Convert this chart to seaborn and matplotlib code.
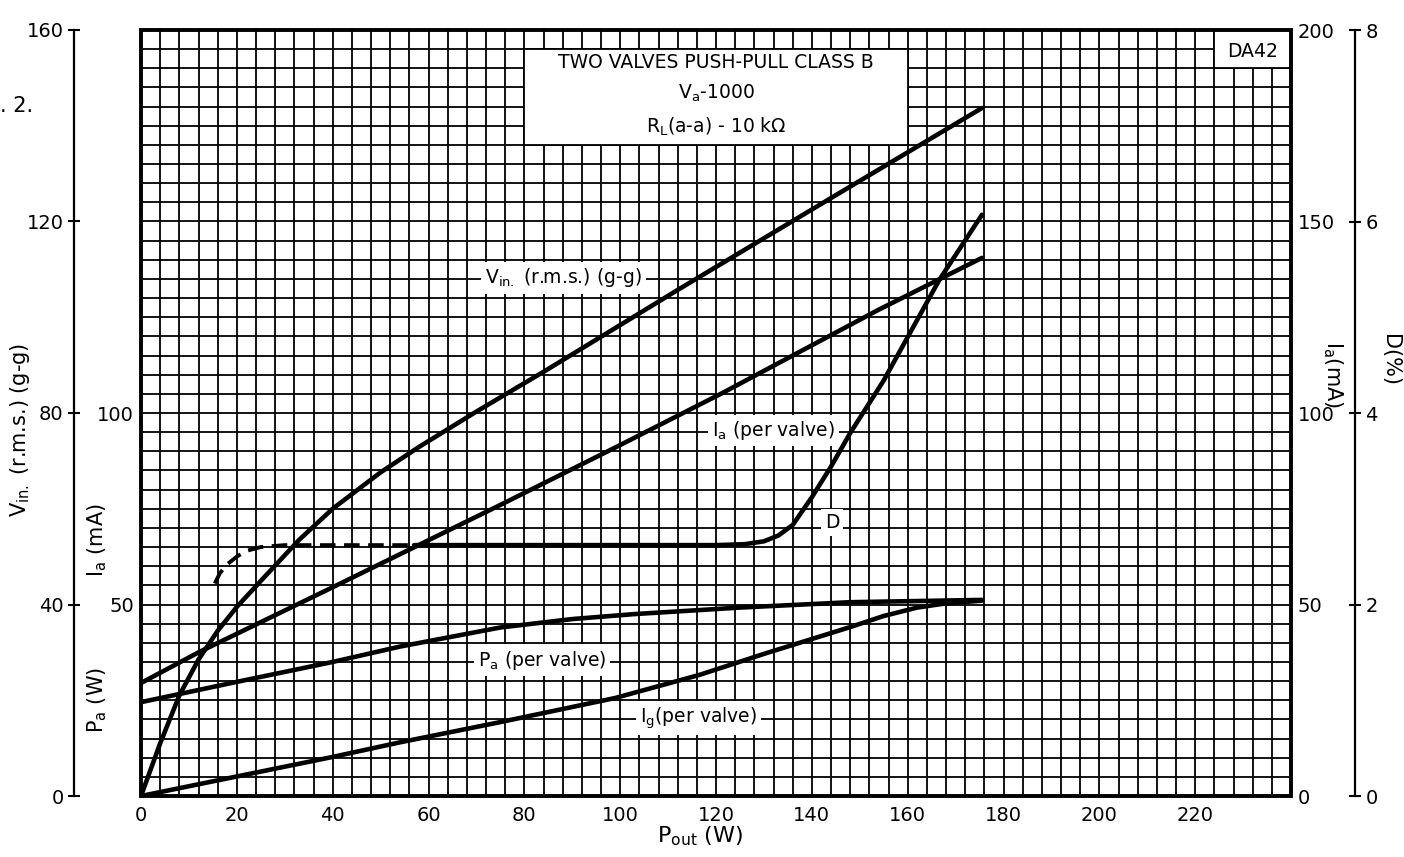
import matplotlib
matplotlib.use('Agg')
import matplotlib.pyplot as plt
import seaborn as sns
from matplotlib.patches import Rectangle

# curves, P_out in W
pout_vin = [0, 4, 8, 12, 16, 20, 26, 33, 40, 50, 58, 70, 84, 112, 144, 175.5]
vin = [0, 11, 21, 28.5, 34.5, 39.5, 46, 53.5, 60, 67.6, 72.9, 80.3, 88.6, 105.7, 124.9, 143.7]

pout_ia = [0, 12, 40, 75, 99, 121, 154, 175.5]
ia = [29.5, 37.5, 54.5, 76, 91, 105, 127, 140.5]

pout_pa = [0, 20, 40, 54, 75, 90, 103, 125, 148, 175.5]
pa = [24.5, 29.8, 35, 39, 44, 46.2, 47.5, 49.2, 50.6, 51.2]

pout_ig = [0, 20, 40, 54, 75, 99, 116.5, 130.5, 148, 155, 162, 168, 175.5]
ig = [0, 5.1, 10.2, 14, 19.3, 25.6, 31.6, 37.3, 44.1, 47, 49.2, 50.3, 51]

# distortion: dashed (estimated) start, then solid
pout_d_est = [15.4, 16.5, 18, 20, 22, 25, 30, 57]
d_est = [2.22, 2.33, 2.42, 2.50, 2.56, 2.60, 2.62, 2.62]
pout_d = [57, 80, 100, 120, 126, 130, 133, 136, 140, 144, 148, 155, 166.6, 175.5]
d = [2.62, 2.62, 2.62, 2.62, 2.63, 2.66, 2.72, 2.83, 3.12, 3.44, 3.79, 4.34, 5.39, 6.07]

x_ticks = list(range(0, 221, 20))
vin_ticks = [0, 40, 80, 120, 160]
ia_ticks = [0, 50, 100, 150, 200]
ia_inner_ticks = [50, 100]
d_ticks = [0, 2, 4, 6, 8]

sns.set_style('white')
plt.rcParams['font.family'] = ['DejaVu Sans']
plt.rcParams.update({'text.color': 'black', 'axes.labelcolor': 'black',
                     'xtick.color': 'black', 'ytick.color': 'black'})

W, H = 1404, 857
fig = plt.figure(figsize=(W / 100, H / 100), dpi=100)
ax = fig.add_axes([141 / W, 61 / H, 1150 / W, 766 / H])

# graph-paper grid
ax.set_xlim(0, 240)
ax.set_ylim(0, 160)
ax.set_xticks(x_ticks)
ax.set_xticks(range(0, 241, 4), minor=True)
ax.set_yticks(vin_ticks)
ax.set_yticks(range(0, 161, 4), minor=True)
ax.grid(which='both', color='black', lw=1.3)
ax.tick_params(axis='x', which='both', length=0, labelsize=14, pad=7)
ax.tick_params(axis='y', which='minor', length=0)
ax.tick_params(axis='y', which='major', direction='inout', length=9, width=1.5,
               labelsize=14, pad=3)
for s in ['top', 'right', 'bottom']:
    ax.spines[s].set_visible(False)
ax.spines['left'].set_position(('axes', -67 / 1150))
ax.spines['left'].set_linewidth(1.6)
ax.spines['left'].set_color('black')
ax.add_patch(Rectangle((0, 0), 1, 1, transform=ax.transAxes, fill=False,
                       lw=2.8, ec='black', zorder=5, clip_on=False))

# Ia / Pa / Ig scale (right, next to the frame)
ax_ia = ax.twinx()
ax_ia.set_ylim(0, 200)
ax_ia.set_yticks(ia_ticks)
ax_ia.tick_params(axis='y', length=0, labelsize=14, pad=5)
for s in ax_ia.spines.values():
    s.set_visible(False)

# inner left Ia labels
ax_in = ax.twinx()
ax_in.set_ylim(0, 200)
ax_in.yaxis.tick_left()
ax_in.set_yticks(ia_inner_ticks)
ax_in.tick_params(axis='y', length=0, labelsize=14, pad=5)
for s in ax_in.spines.values():
    s.set_visible(False)

# distortion scale
ax_d = ax.twinx()
ax_d.set_ylim(0, 8)
ax_d.set_yticks(d_ticks)
ax_d.tick_params(axis='y', direction='inout', length=9, width=1.5, labelsize=14, pad=3)
for s in ['top', 'left', 'bottom']:
    ax_d.spines[s].set_visible(False)
ax_d.spines['right'].set_position(('axes', 1 + 64 / 1150))
ax_d.spines['right'].set_linewidth(1.6)
ax_d.spines['right'].set_color('black')

lw = 3.3
sns.lineplot(x=pout_vin, y=vin, ax=ax, color='black', lw=lw, estimator=None)
sns.lineplot(x=pout_ia, y=ia, ax=ax_ia, color='black', lw=lw, estimator=None)
sns.lineplot(x=pout_pa, y=pa, ax=ax_ia, color='black', lw=lw, estimator=None)
sns.lineplot(x=pout_ig, y=ig, ax=ax_ia, color='black', lw=lw, estimator=None)
sns.lineplot(x=pout_d_est, y=d_est, ax=ax_d, color='black', lw=2.8,
             linestyle=(0, (4, 2.2)), estimator=None)
sns.lineplot(x=pout_d, y=d, ax=ax_d, color='black', lw=lw, estimator=None)
for a in (ax_ia, ax_in, ax_d):
    a.set_ylabel('')
ax.set_xlabel('')
ax.set_ylabel('')

# title box and type box
ax.add_patch(Rectangle((80, 136), 80, 20, fc='white', ec='black', lw=1.3, zorder=1))
ax.text(120, 153.3, 'TWO VALVES PUSH-PULL CLASS B', ha='center', va='center', fontsize=13.5)
ax.text(120, 146.8, r'V$_{\rm a}$-1000', ha='center', va='center', fontsize=13.5)
ax.text(120, 139.7, r'R$_{\rm L}$(a-a) - 10 k$\Omega$', ha='center', va='center', fontsize=13.5)
ax.add_patch(Rectangle((224, 152), 16, 8, fc='white', ec='black', lw=1.3, zorder=1))
ax.text(232, 155.6, 'DA42', ha='center', va='center', fontsize=13.5)

# curve labels
box = dict(fc='white', ec='none', pad=3)
ax.text(88.1, 108.2, r'V$_{\rm in.}$ (r.m.s.) (g-g)', ha='center', va='center', fontsize=13.5, bbox=box)
ax.text(131.9, 76.4, r'I$_{\rm a}$ (per valve)', ha='center', va='center', fontsize=13.5, bbox=box)
ax.text(144.2, 57.2, 'D', ha='center', va='center', fontsize=13.5, bbox=box)
ax.text(83.7, 28.4, r'P$_{\rm a}$ (per valve)', ha='center', va='center', fontsize=13.5, bbox=box)
ax.text(116.4, 16.3, r'I$_{\rm g}$(per valve)', ha='center', va='center', fontsize=13.5, bbox=box)

# axis titles
fig.text(20 / W, 1 - 430 / H, r'V$_{\rm in.}$ (r.m.s.) (g-g)', rotation=90,
         ha='center', va='center', fontsize=15)
fig.text(97 / W, 1 - 540 / H, r'I$_{\rm a}$ (mA)', rotation=90, ha='center', va='center', fontsize=15)
fig.text(97 / W, 1 - 700 / H, r'P$_{\rm a}$ (W)', rotation=90, ha='center', va='center', fontsize=15)
fig.text(1333 / W, 1 - 375 / H, r'I$_{\rm a}$(mA)', rotation=270, ha='center', va='center', fontsize=15)
fig.text(1390 / W, 1 - 360 / H, 'D(%)', rotation=270, ha='center', va='center', fontsize=15)
fig.text(700 / W, 1 - 836 / H, r'P$_{\rm out}$ (W)', ha='center', va='center', fontsize=16)
fig.text(0, 1 - 106 / H, '. 2.', ha='left', va='center', fontsize=15)

fig.savefig('out.png', dpi=100)
